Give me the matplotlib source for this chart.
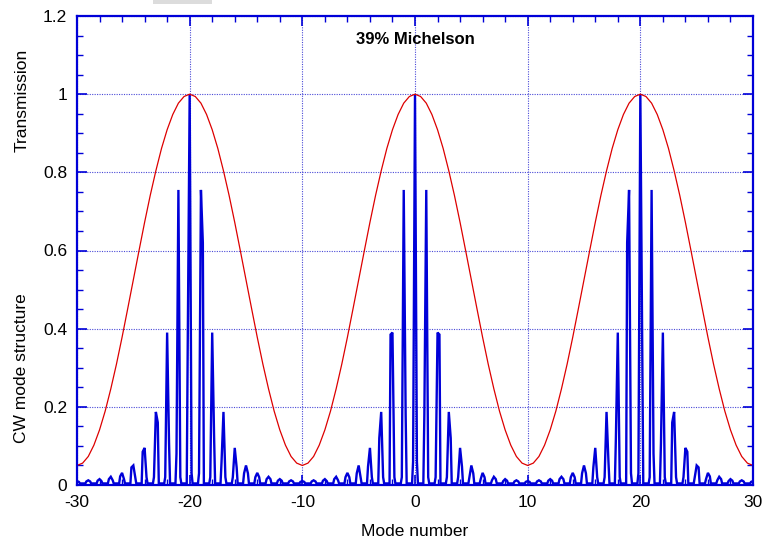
import numpy as np
import matplotlib
matplotlib.use("Agg")
import matplotlib.pyplot as plt
from matplotlib.patches import Rectangle
from matplotlib.ticker import MultipleLocator

plt.rcParams['font.family'] = ['Liberation Sans', 'DejaVu Sans']

# Michelson transmission, sampled every half mode from -30 to 30
trans_x = np.arange(-30, 30.01, 0.5)
trans_y = [
    0.050, 0.056, 0.073, 0.102, 0.141, 0.189, 0.246, 0.309, 0.378, 0.451,
    0.525, 0.599, 0.672, 0.741, 0.804, 0.861, 0.909, 0.948, 0.977, 0.994,
    1.000, 0.994, 0.977, 0.948, 0.909, 0.861, 0.804, 0.741, 0.672, 0.599,
    0.525, 0.451, 0.378, 0.309, 0.246, 0.189, 0.141, 0.102, 0.073, 0.056,
    0.050, 0.056, 0.073, 0.102, 0.141, 0.189, 0.246, 0.309, 0.378, 0.451,
    0.525, 0.599, 0.672, 0.741, 0.804, 0.861, 0.909, 0.948, 0.977, 0.994,
    1.000, 0.994, 0.977, 0.948, 0.909, 0.861, 0.804, 0.741, 0.672, 0.599,
    0.525, 0.451, 0.378, 0.309, 0.246, 0.189, 0.141, 0.102, 0.073, 0.056,
    0.050, 0.056, 0.073, 0.102, 0.141, 0.189, 0.246, 0.309, 0.378, 0.451,
    0.525, 0.599, 0.672, 0.741, 0.804, 0.861, 0.909, 0.948, 0.977, 0.994,
    1.000, 0.994, 0.977, 0.948, 0.909, 0.861, 0.804, 0.741, 0.672, 0.599,
    0.525, 0.451, 0.378, 0.309, 0.246, 0.189, 0.141, 0.102, 0.073, 0.056,
    0.050,
]

# CW modes: peak height plus the neighbouring samples on each side
modes = np.arange(-30, 31)
mode_peak = [
    0.010, 0.012, 0.015, 0.021, 0.031, 0.050, 0.095, 0.187, 0.390, 0.755,
    1.000, 0.755, 0.390, 0.187, 0.095, 0.050, 0.031, 0.021, 0.015, 0.012,
    0.010, 0.012, 0.015, 0.021, 0.031, 0.050, 0.095, 0.187, 0.390, 0.755,
    1.000, 0.755, 0.390, 0.187, 0.095, 0.050, 0.031, 0.021, 0.015, 0.012,
    0.010, 0.012, 0.015, 0.021, 0.031, 0.050, 0.095, 0.187, 0.390, 0.755,
    1.000, 0.755, 0.390, 0.187, 0.095, 0.050, 0.031, 0.021, 0.015, 0.012,
    0.010,
]
mode_left = [
    0.008, 0.009, 0.011, 0.015, 0.022, 0.045, 0.085, 0.020, 0.020, 0.080,
    0.367, 0.030, 0.020, 0.060, 0.020, 0.030, 0.020, 0.015, 0.011, 0.009,
    0.008, 0.009, 0.011, 0.015, 0.020, 0.030, 0.047, 0.120, 0.385, 0.020,
    0.060, 0.180, 0.020, 0.020, 0.020, 0.020, 0.015, 0.012, 0.010, 0.009,
    0.008, 0.009, 0.011, 0.015, 0.020, 0.030, 0.045, 0.020, 0.120, 0.620,
    0.030, 0.020, 0.107, 0.160, 0.020, 0.020, 0.015, 0.012, 0.010, 0.009,
    0.008,
]
mode_right = [
    0.008, 0.009, 0.010, 0.012, 0.015, 0.020, 0.020, 0.160, 0.107, 0.020,
    0.030, 0.620, 0.120, 0.020, 0.045, 0.030, 0.020, 0.015, 0.011, 0.009,
    0.008, 0.009, 0.010, 0.012, 0.020, 0.020, 0.020, 0.020, 0.020, 0.180,
    0.060, 0.020, 0.385, 0.120, 0.047, 0.030, 0.020, 0.015, 0.011, 0.009,
    0.008, 0.009, 0.011, 0.015, 0.020, 0.030, 0.020, 0.060, 0.020, 0.030,
    0.367, 0.080, 0.020, 0.020, 0.085, 0.045, 0.022, 0.015, 0.011, 0.009,
    0.008,
]
floor_level = 0.004

x_ticks = [-30, -20, -10, 0, 10, 20, 30]
x_tick_labels = ['-30', '-20', '-10', '0', '10', '20', '30']
y_ticks = [0, 0.2, 0.4, 0.6, 0.8, 1.0, 1.2]
y_tick_labels = ['0', '0.2', '0.4', '0.6', '0.8', '1', '1.2']

# Build the sampled mode trace around every mode
bx, by = [], []
for m, pk, lf, rt in zip(modes, mode_peak, mode_left, mode_right):
    bx += [m - 0.5, m - 0.26, m - 0.17, m, m + 0.17, m + 0.26]
    by += [floor_level, floor_level, lf, pk, rt, floor_level]
bx.append(modes[-1] + 0.5)
by.append(floor_level)

blue = '#0000d8'
red = '#dd0000'

fig = plt.figure(figsize=(7.63, 5.43), dpi=100)
ax = fig.add_axes([77 / 763, 1 - 485 / 543, 676 / 763, 469 / 543])

ax.plot(bx, by, color=blue, lw=1.7, solid_joinstyle='miter', zorder=3)
ax.plot(trans_x, trans_y, color=red, lw=0.9, zorder=4)

ax.set_xlim(-30, 30)
ax.set_ylim(0, 1.2)
ax.set_xticks(x_ticks)
ax.set_xticklabels(x_tick_labels)
ax.set_yticks(y_ticks)
ax.set_yticklabels(y_tick_labels)
ax.xaxis.set_minor_locator(MultipleLocator(2))
ax.yaxis.set_minor_locator(MultipleLocator(0.05))

ax.tick_params(which='both', direction='in', top=True, right=True,
               color=blue, labelsize=12.5, labelcolor='black', pad=7)
ax.tick_params(which='major', length=7, width=1.2)
ax.tick_params(which='minor', length=4, width=1.0)

ax.grid(True, which='major', color='#2a2ad0', linestyle=(0, (1, 1.2)),
        linewidth=0.8, alpha=0.85)
ax.set_axisbelow(True)
for sp in ax.spines.values():
    sp.set_color(blue)
    sp.set_linewidth(1.6)
    sp.set_zorder(5)

ax.set_xlabel('Mode number', fontsize=12.5, labelpad=10)
ax.text(0, 1.14, '39% Michelson', ha='center', va='center',
        fontsize=12, fontweight='bold')

fig.text(22 / 763, 1 - 100 / 543, 'Transmission', rotation=90,
         ha='center', va='center', fontsize=12.5)
fig.text(22 / 763, 1 - 368 / 543, 'CW mode structure', rotation=90,
         ha='center', va='center', fontsize=12.5)

fig.add_artist(Rectangle((153 / 763, 1 - 4 / 543), 59 / 763, 4 / 543,
                         transform=fig.transFigure, facecolor='#dcdcdc',
                         edgecolor='none'))

fig.savefig('out.png', dpi=100)
